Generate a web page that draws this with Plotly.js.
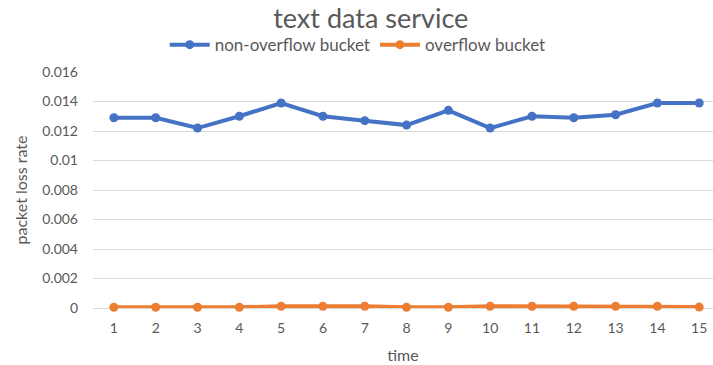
<!DOCTYPE html>
<html><head><meta charset="utf-8">
<script src="https://cdn.plot.ly/plotly-3.0.1.min.js"></script>
<style>html,body{margin:0;padding:0;background:#fff}#chart{width:713px;height:365px}</style>
</head><body><div id="chart"></div>
<script>
var timeLabels = ["1","2","3","4","5","6","7","8","9","10","11","12","13","14","15"];
var nonOverflow = [0.0129,0.0129,0.0122,0.0130,0.0139,0.0130,0.0127,0.0124,0.0134,0.0122,0.0130,0.0129,0.0131,0.0139,0.0139];
var overflow = [0.00005,0.00005,0.00005,0.00005,0.00012,0.00012,0.00012,0.00005,0.00005,0.00012,0.00012,0.00012,0.00012,0.00012,0.00006];
var yTickVals = [0,0.002,0.004,0.006,0.008,0.010,0.012,0.014,0.016];
var yTickText = ["0","0.002","0.004","0.006","0.008","0.01","0.012","0.014","0.016"];

var font = "Lato, 'Open Sans', sans-serif";
var traces = [
  {x: timeLabels, y: nonOverflow, name: "non-overflow bucket", type: "scatter", mode: "lines+markers",
   line: {color: "#4472C4", width: 4}, marker: {color: "#4472C4", size: 9}, cliponaxis: false},
  {x: timeLabels, y: overflow, name: "overflow bucket", type: "scatter", mode: "lines+markers",
   line: {color: "#ED7D31", width: 4}, marker: {color: "#ED7D31", size: 9}, cliponaxis: false}
];
var layout = {
  width: 713, height: 365,
  margin: {l: 93, r: 0, t: 72, b: 57},
  paper_bgcolor: "#fff", plot_bgcolor: "#fff",
  font: {family: font, color: "#595959", size: 14},
  title: {text: "text data service", x: 0.52, xanchor: "center", y: 0.95, yanchor: "middle",
          font: {family: font, size: 27, color: "#595959"}},
  showlegend: true,
  legend: {orientation: "h", x: 0.427, xanchor: "center", y: 1.114, yanchor: "middle",
           font: {family: font, size: 17, color: "#595959"}, itemwidth: 40, traceorder: "normal"},
  xaxis: {type: "category", range: [-0.5, 14.33], showgrid: false, zeroline: false, showline: false,
          ticks: "", ticklabelstandoff: 10, tickfont: {size: 14, color: "#595959"},
          title: {text: "time", font: {size: 16, color: "#595959"}, standoff: 14}},
  yaxis: {range: [0, 0.016], tickvals: yTickVals, ticktext: yTickText,
          showgrid: true, gridcolor: "#d9d9d9", gridwidth: 1, zeroline: true, zerolinecolor: "#d9d9d9",
          showline: false, ticks: "", ticklabelstandoff: 14, tickfont: {size: 14, color: "#595959"},
          title: {text: "packet loss rate", font: {size: 16, color: "#595959"}, standoff: 10}}
};
Plotly.newPlot("chart", traces, layout, {displayModeBar: false, staticPlot: true});
</script></body></html>
